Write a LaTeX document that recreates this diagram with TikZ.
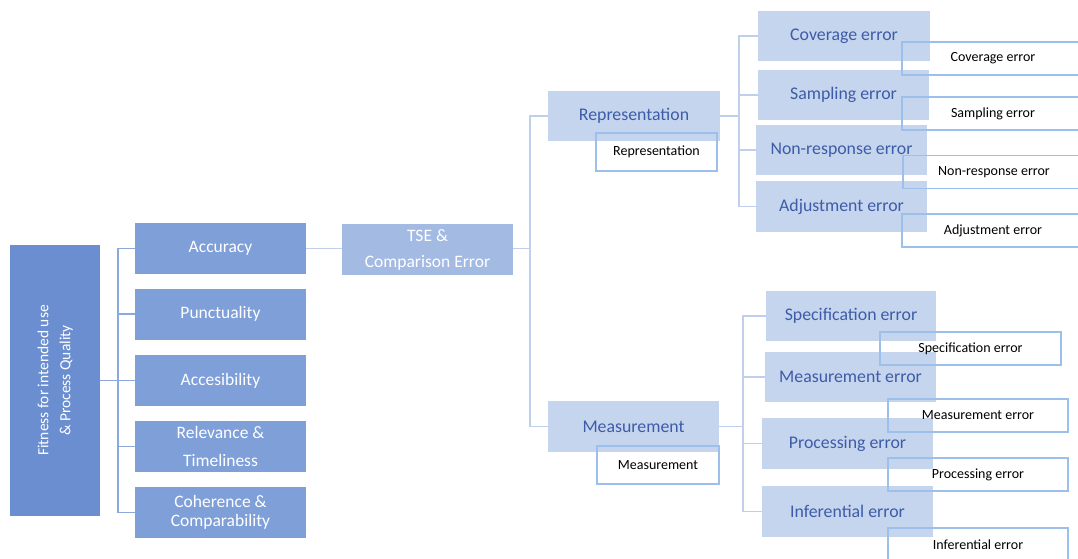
\documentclass[tikz,border=0pt]{standalone}
\usepackage{fontspec}
\setmainfont{Carlito}
\usetikzlibrary{positioning}
\definecolor{rootBlue} {HTML}{6A8ED0}
\definecolor{qualBlue} {HTML}{7E9FD8}
\definecolor{tseBlue}  {HTML}{A3BAE3}
\definecolor{errBlue}  {HTML}{C6D5EE}
\definecolor{errText}  {HTML}{3D5CA8}
\definecolor{tagLine}  {HTML}{9CC0EA}
\definecolor{linkDark} {HTML}{8DA8DC}
\definecolor{linkLight}{HTML}{BFCFEC}

\tikzset{
  box/.style={inner sep=0pt, align=center},
  rootbox/.style={box, fill=rootBlue, text=white, minimum width=90pt, minimum height=271pt,
                  font=\fontsize{15.5}{22}\selectfont},
  qualbox/.style={box, fill=qualBlue, text=white, minimum width=171pt, minimum height=51pt,
                  font=\fontsize{17.5}{19}\selectfont},
  tsebox/.style={box, fill=tseBlue, text=white, minimum width=171pt, minimum height=51pt,
                 font=\fontsize{17.5}{26}\selectfont},
  errbox/.style={box, fill=errBlue, text=errText, minimum width=171pt, minimum height=50pt,
                 font=\fontsize{17.8}{20}\selectfont},
  tagbox/.style={box, draw=tagLine, line width=1.2pt, minimum width=182pt, minimum height=33pt,
                 font=\fontsize{14}{16}\selectfont},
  link/.style={draw=linkDark, line width=1.4pt},
  sublink/.style={draw=linkLight, line width=1.2pt},
}

\begin{document}
\begin{tikzpicture}[x=1pt, y=-1pt]
  \useasboundingbox (0,0) rectangle (1078,558);

  % root and quality dimensions
  \node[rootbox] (root) at (55, 380.5)
       {\rotatebox{90}{\begin{tabular}{c}Fitness for intended use\\\& Process Quality\end{tabular}}};
  \node[qualbox] (acc)  at (220.5, 248.5) {Accuracy};
  \node[qualbox] (punc) at (220.5, 314)   {Punctuality};
  \node[qualbox] (acce) at (220.5, 380.5) {Accesibility};
  \node[qualbox, font=\fontsize{17.5}{28}\selectfont] (rel) at (220.5, 446.5) {Relevance \&\\Timeliness};
  \node[qualbox] (coh)  at (220.5, 512.5) {Coherence \&\\Comparability};

  % total survey error
  \node[tsebox] (tse) at (427.5, 249.5) {TSE \&\\Comparison Error};

  \node[errbox, minimum width=172pt] (repr) at (634, 116)   {Representation};
  \node[errbox, minimum height=51pt] (meas) at (633.5, 426.5) {Measurement};

  % representation side
  \node[errbox, minimum width=172pt] (cov)  at (844, 36)    {Coverage error};
  \node[errbox] (samp) at (843.5, 95)   {Sampling error};
  \node[errbox] (nonr) at (841.5, 150)  {Non-response error};
  \node[errbox, minimum height=51pt] (adj)  at (841.5, 206.5) {Adjustment error};

  % measurement side
  \node[errbox, minimum width=170pt] (spec) at (851, 316)   {Specification error};
  \node[errbox] (merr) at (850.5, 377)  {Measurement error};
  \node[errbox, minimum height=51pt] (proc) at (847.5, 443.5) {Processing error};
  \node[errbox, minimum height=51pt] (infe) at (847.5, 511.5) {Inferential error};

  % label boxes
  \node[tagbox, minimum width=121pt, minimum height=38pt] (repr-tag) at (656.5, 152) {Representation};
  \node[tagbox, minimum width=122pt, minimum height=38pt] (meas-tag) at (658, 465)   {Measurement};
  \node[tagbox] (cov-tag)  at (993, 58.5)  {Coverage error};
  \node[tagbox] (samp-tag) at (993, 113.5) {Sampling error};
  \node[tagbox] (nonr-tag) at (994, 172)   {Non-response error};
  \node[tagbox] (adj-tag)  at (993, 230.5) {Adjustment error};
  \node[tagbox, minimum width=181pt] (spec-tag) at (970.5, 348.5) {Specification error};
  \node[tagbox, minimum width=180pt] (merr-tag) at (978, 415.5)   {Measurement error};
  \node[tagbox, minimum width=180pt] (proc-tag) at (978, 474.5)   {Processing error};
  \node[tagbox, minimum width=180pt] (infe-tag) at (978, 544.5)   {Inferential error};

  % connectors
  \coordinate (busQ) at (118, 380.5);
  \draw[link] (root.east) -- (busQ);
  \foreach \n in {acc, punc, acce, rel, coh}
    \draw[link] (busQ) |- (\n.west);
  \draw[sublink] (acc.east) -- (tse.west |- acc.east);

  \coordinate (busT) at (530, 248.5);
  \draw[sublink] (tse.east |- busT) -- (busT);
  \foreach \n in {repr, meas}
    \draw[sublink] (busT) |- (\n.west);

  \coordinate (busR) at (739, 116);
  \draw[sublink] (repr.east) -- (busR);
  \foreach \n in {cov, samp, nonr, adj}
    \draw[sublink] (busR) |- (\n.west);

  \coordinate (busM) at (743, 426.5);
  \draw[sublink] (meas.east) -- (busM);
  \foreach \n in {spec, merr, proc, infe}
    \draw[sublink] (busM) |- (\n.west);
\end{tikzpicture}
\end{document}
